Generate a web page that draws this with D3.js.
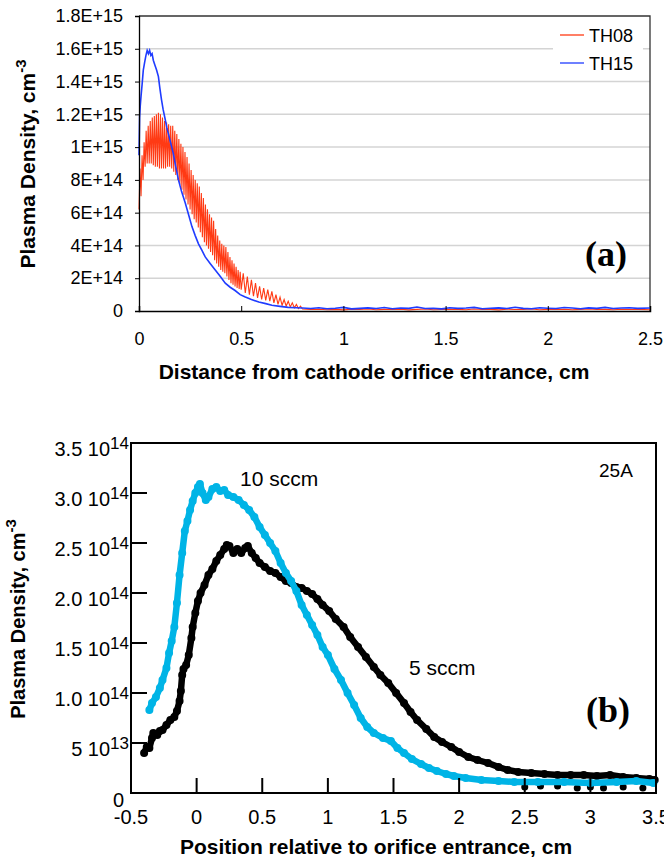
<!DOCTYPE html>
<html>
<head>
<meta charset="utf-8">
<script src="https://cdn.jsdelivr.net/npm/d3@7"></script>
<style>
  body { margin: 0; background: #fff; }
  svg { display: block; }
  text { font-family: "Liberation Sans", Arial, sans-serif; fill: #000; }
</style>
</head>
<body>
<script>
// ---- panel (a) data: distance (cm), density (cm^-3, in units of 1e15) ----
const th15Main = [
  [0.000, 0.95], [0.003, 1.18], [0.006, 1.25], [0.010, 1.31], [0.015, 1.38], [0.021, 1.47],
  [0.028, 1.52], [0.034, 1.56], [0.040, 1.59], [0.046, 1.57], [0.052, 1.59], [0.058, 1.56],
  [0.064, 1.57], [0.070, 1.53], [0.078, 1.50], [0.086, 1.47], [0.095, 1.43], [0.102, 1.36],
  [0.110, 1.29], [0.118, 1.23], [0.128, 1.17], [0.136, 1.12], [0.144, 1.08], [0.156, 1.02],
  [0.168, 0.96], [0.180, 0.88], [0.193, 0.80], [0.208, 0.73], [0.226, 0.66], [0.242, 0.59],
  [0.259, 0.515], [0.275, 0.46], [0.291, 0.41], [0.308, 0.37], [0.324, 0.33], [0.348, 0.29],
  [0.373, 0.25], [0.398, 0.21], [0.422, 0.17], [0.446, 0.145], [0.470, 0.125], [0.495, 0.10],
  [0.520, 0.085], [0.550, 0.07], [0.586, 0.055], [0.620, 0.045], [0.650, 0.035], [0.690, 0.028],
  [0.730, 0.022], [0.770, 0.02]
];
const th08Main = [
  [0.000, 0.62], [0.005, 0.87], [0.010, 0.70], [0.015, 0.95], [0.020, 0.80], [0.025, 1.03],
  [0.030, 0.88], [0.035, 1.10], [0.040, 0.90], [0.045, 1.13], [0.050, 0.90], [0.055, 1.16],
  [0.060, 0.90], [0.065, 1.18], [0.070, 0.89], [0.075, 1.19], [0.080, 0.88], [0.085, 1.20],
  [0.090, 0.88], [0.095, 1.21], [0.100, 0.87], [0.105, 1.20], [0.110, 0.87], [0.115, 1.18],
  [0.120, 0.87], [0.125, 1.16], [0.130, 0.87], [0.135, 1.15], [0.140, 0.88], [0.145, 1.14],
  [0.150, 0.88], [0.155, 1.13], [0.160, 0.87], [0.165, 1.13], [0.170, 0.85], [0.175, 1.10],
  [0.180, 0.83], [0.185, 1.08], [0.190, 0.80], [0.195, 1.05], [0.200, 0.77], [0.205, 1.02],
  [0.210, 0.74], [0.215, 1.00], [0.220, 0.71], [0.225, 0.97], [0.230, 0.68], [0.235, 0.94],
  [0.240, 0.65], [0.245, 0.90], [0.250, 0.62], [0.255, 0.86], [0.260, 0.59], [0.265, 0.83],
  [0.270, 0.56], [0.275, 0.80], [0.280, 0.54], [0.285, 0.78], [0.290, 0.51], [0.295, 0.76],
  [0.300, 0.48], [0.305, 0.72], [0.310, 0.45], [0.315, 0.69], [0.320, 0.42], [0.325, 0.65],
  [0.330, 0.40], [0.335, 0.62], [0.340, 0.38], [0.345, 0.59], [0.350, 0.36], [0.355, 0.57],
  [0.360, 0.34], [0.365, 0.55], [0.370, 0.31], [0.375, 0.50], [0.380, 0.29], [0.385, 0.46],
  [0.390, 0.27], [0.395, 0.43], [0.400, 0.25], [0.405, 0.41], [0.410, 0.24], [0.415, 0.40],
  [0.420, 0.23], [0.425, 0.39], [0.430, 0.21], [0.435, 0.36], [0.440, 0.19], [0.445, 0.33],
  [0.450, 0.17], [0.455, 0.31], [0.460, 0.16], [0.465, 0.29], [0.470, 0.15], [0.475, 0.27],
  [0.480, 0.14], [0.485, 0.25], [0.490, 0.135], [0.495, 0.24], [0.500, 0.13], [0.510, 0.23],
  [0.520, 0.11], [0.530, 0.21], [0.540, 0.10], [0.550, 0.19], [0.560, 0.09], [0.570, 0.17],
  [0.580, 0.08], [0.590, 0.15], [0.600, 0.07], [0.610, 0.14], [0.620, 0.065], [0.630, 0.13],
  [0.640, 0.06], [0.650, 0.12], [0.660, 0.05], [0.670, 0.10], [0.680, 0.04], [0.690, 0.085],
  [0.700, 0.035], [0.710, 0.07], [0.720, 0.03], [0.730, 0.06], [0.740, 0.025], [0.750, 0.05],
  [0.760, 0.02], [0.770, 0.04], [0.780, 0.015], [0.790, 0.03], [0.800, 0.012]
];
const tailX = [0.80, 0.84, 0.88, 0.92, 0.96, 1.00, 1.04, 1.08, 1.12, 1.16, 1.20, 1.24, 1.28,
  1.32, 1.36, 1.40, 1.44, 1.48, 1.52, 1.56, 1.60, 1.64, 1.68, 1.72, 1.76, 1.80, 1.84, 1.88,
  1.92, 1.96, 2.00, 2.04, 2.08, 2.12, 2.16, 2.20, 2.24, 2.28, 2.32, 2.36, 2.40, 2.44, 2.50];
const th15Tail = [0.018, 0.015, 0.020, 0.014, 0.017, 0.022, 0.013, 0.016, 0.019, 0.015, 0.021,
  0.014, 0.018, 0.016, 0.024, 0.015, 0.017, 0.013, 0.020, 0.016, 0.018, 0.022, 0.014, 0.017,
  0.019, 0.015, 0.023, 0.016, 0.014, 0.020, 0.017, 0.015, 0.021, 0.018, 0.014, 0.019, 0.016,
  0.022, 0.015, 0.018, 0.020, 0.016, 0.018];
const th08Tail = [0.012, 0.009, 0.011, 0.008, 0.010, 0.007, 0.011, 0.009, 0.012, 0.008, 0.010,
  0.009, 0.011, 0.007, 0.010, 0.012, 0.008, 0.009, 0.011, 0.010, 0.008, 0.012, 0.009, 0.010,
  0.007, 0.011, 0.009, 0.010, 0.012, 0.008, 0.010, 0.009, 0.011, 0.008, 0.010, 0.012, 0.009,
  0.010, 0.008, 0.011, 0.009, 0.010, 0.008];
const yTicksA = [0, 2e14, 4e14, 6e14, 8e14, 1e15, 1.2e15, 1.4e15, 1.6e15, 1.8e15];
const yLabelsA = ["0", "2E+14", "4E+14", "6E+14", "8E+14", "1E+15", "1.2E+15", "1.4E+15", "1.6E+15", "1.8E+15"];
const xTicksA = [0, 0.5, 1, 1.5, 2, 2.5];
const xLabelsA = ["0", "0.5", "1", "1.5", "2", "2.5"];

// ---- panel (b) data: position (cm), density (units of 1e14 cm^-3) ----
const sccm5 = [
  [-0.40, 0.40], [-0.38, 0.46], [-0.36, 0.45], [-0.34, 0.55], [-0.33, 0.60], [-0.30, 0.58],
  [-0.28, 0.62], [-0.26, 0.63], [-0.23, 0.68], [-0.20, 0.73], [-0.17, 0.76], [-0.15, 0.82],
  [-0.13, 0.92], [-0.12, 1.02], [-0.11, 1.18], [-0.10, 1.24], [-0.08, 1.28], [-0.06, 1.38],
  [-0.04, 1.55], [-0.03, 1.66], [-0.01, 1.80], [0.01, 1.92], [0.03, 2.00], [0.06, 2.08],
  [0.09, 2.18], [0.12, 2.24], [0.15, 2.32], [0.18, 2.38], [0.21, 2.44], [0.23, 2.48],
  [0.25, 2.47], [0.28, 2.40], [0.31, 2.44], [0.34, 2.40], [0.37, 2.45], [0.39, 2.47],
  [0.42, 2.40], [0.45, 2.35], [0.48, 2.30], [0.52, 2.26], [0.56, 2.22], [0.60, 2.20],
  [0.64, 2.16], [0.68, 2.12], [0.72, 2.10], [0.76, 2.06], [0.80, 2.05], [0.84, 2.02],
  [0.88, 1.99], [0.92, 1.94], [0.96, 1.88], [1.01, 1.82], [1.06, 1.74], [1.12, 1.66],
  [1.17, 1.56], [1.23, 1.46], [1.29, 1.36], [1.35, 1.26], [1.40, 1.18], [1.46, 1.10],
  [1.52, 1.00], [1.58, 0.90], [1.63, 0.81], [1.68, 0.73], [1.75, 0.64], [1.81, 0.56],
  [1.87, 0.51], [1.94, 0.46], [2.00, 0.41], [2.07, 0.36], [2.14, 0.33], [2.22, 0.30],
  [2.30, 0.26], [2.37, 0.23], [2.45, 0.21], [2.55, 0.20], [2.65, 0.19], [2.75, 0.18],
  [2.85, 0.18], [2.95, 0.18], [3.05, 0.17], [3.15, 0.18], [3.25, 0.16], [3.35, 0.15],
  [3.45, 0.14], [3.49, 0.13]
];
const sccm5Scatter = [[2.50, 0.06], [2.62, 0.07], [2.75, 0.07], [2.90, 0.05], [3.00, 0.06],
  [3.10, 0.05], [3.25, 0.06], [3.40, 0.05]];
const sccm10 = [
  [-0.36, 0.83], [-0.34, 0.90], [-0.31, 0.96], [-0.28, 1.05], [-0.26, 1.13], [-0.23, 1.25],
  [-0.21, 1.40], [-0.19, 1.52], [-0.17, 1.66], [-0.15, 1.90], [-0.13, 2.18], [-0.11, 2.40],
  [-0.09, 2.62], [-0.07, 2.72], [-0.05, 2.83], [-0.03, 2.92], [-0.01, 3.00], [0.01, 3.06],
  [0.025, 3.09], [0.045, 3.00], [0.07, 2.93], [0.09, 2.96], [0.12, 3.04], [0.15, 3.06],
  [0.18, 3.02], [0.21, 3.03], [0.24, 2.98], [0.28, 2.96], [0.32, 2.93], [0.36, 2.88],
  [0.40, 2.83], [0.44, 2.76], [0.48, 2.66], [0.52, 2.58], [0.56, 2.50], [0.60, 2.42],
  [0.64, 2.30], [0.68, 2.20], [0.72, 2.12], [0.76, 2.02], [0.80, 1.88], [0.84, 1.78],
  [0.88, 1.68], [0.92, 1.58], [0.96, 1.46], [1.00, 1.38], [1.05, 1.24], [1.10, 1.13],
  [1.15, 1.00], [1.20, 0.88], [1.25, 0.75], [1.30, 0.66], [1.35, 0.60], [1.42, 0.55],
  [1.48, 0.52], [1.53, 0.45], [1.58, 0.40], [1.64, 0.34], [1.71, 0.29], [1.77, 0.25],
  [1.83, 0.22], [1.90, 0.19], [1.96, 0.17], [2.05, 0.15], [2.17, 0.13], [2.30, 0.12],
  [2.42, 0.11], [2.60, 0.11], [2.80, 0.11], [3.00, 0.10], [3.20, 0.11], [3.35, 0.12],
  [3.48, 0.10]
];
const yTicksB = [0.5, 1.0, 1.5, 2.0, 2.5, 3.0, 3.5];
const yMantB = ["5", "1.0", "1.5", "2.0", "2.5", "3.0", "3.5"];
const yExpB = ["13", "14", "14", "14", "14", "14", "14"];
const xTicksB = [-0.5, 0, 0.5, 1, 1.5, 2, 2.5, 3, 3.5];
const xLabelsB = ["-0.5", "0", "0.5", "1", "1.5", "2", "2.5", "3", "3.5"];

const svg = d3.select("body").append("svg").attr("width", 664).attr("height", 858);

// ================= panel (a) =================
const xa = d3.scaleLinear().domain([0, 2.5]).range([139, 650]);
const ya = d3.scaleLinear().domain([0, 1.8e15]).range([311, 16]);
const ga = svg.append("g");

ga.selectAll(".grid").data(yTicksA.slice(1, -1)).enter().append("line")
  .attr("x1", xa(0)).attr("x2", xa(2.5))
  .attr("y1", d => ya(d)).attr("y2", d => ya(d))
  .style("stroke", "#d4d4d4").style("stroke-width", 1.5);

// frame: top + right dark
ga.append("path")
  .attr("d", `M${xa(0)},${ya(1.8e15)}H${xa(2.5)}V${ya(0)}`)
  .style("fill", "none").style("stroke", "#333").style("stroke-width", 1.3);

const lineA = d3.line().x(d => xa(d[0])).y(d => ya(d[1] * 1e15));
const th08 = th08Main.concat(tailX.slice(1).map((x, i) => [x, th08Tail[i + 1]]));
const th15 = th15Main.concat(tailX.map((x, i) => [x, th15Tail[i]]));

ga.append("path").datum(th08).attr("d", lineA)
  .style("fill", "none").style("stroke", "#ff3a14").style("stroke-width", 1.1);
ga.append("path").datum(th15).attr("d", lineA)
  .style("fill", "none").style("stroke", "#1f3cff").style("stroke-width", 1.6);

// y axis
const axA = d3.axisLeft(ya).tickValues(yTicksA).tickSize(4).tickPadding(12)
  .tickFormat((d, i) => yLabelsA[i]);
const gya = ga.append("g").attr("transform", `translate(${xa(0)},0)`).call(axA);
gya.select(".domain").style("stroke", "#000").style("stroke-width", 1.3);
gya.selectAll("text").style("font-size", "18px").style("font-family", "Liberation Sans, Arial");

// x axis
const axAx = d3.axisBottom(xa).tickValues(xTicksA).tickSize(-5).tickPadding(21)
  .tickFormat((d, i) => xLabelsA[i]);
const gxa = ga.append("g").attr("transform", `translate(0,${ya(0)})`).call(axAx);
gxa.select(".domain").style("stroke", "#000").style("stroke-width", 1.5);
gxa.selectAll("text").style("font-size", "18px").style("font-family", "Liberation Sans, Arial");

ga.append("text").attr("x", 374).attr("y", 379).attr("text-anchor", "middle")
  .style("font-size", "21px").style("font-weight", "bold")
  .text("Distance from cathode orifice entrance, cm");

ga.append("text").attr("transform", "translate(35,164) rotate(-90)").attr("text-anchor", "middle")
  .style("font-size", "21px").style("font-weight", "bold")
  .call(t => {
    t.append("tspan").text("Plasma Density, cm");
    t.append("tspan").attr("dy", -9).style("font-size", "15px").text("-3");
  });

// legend
const legA = ga.append("g");
legA.append("rect").attr("x", 553).attr("y", 20).attr("width", 90).attr("height", 56).style("fill", "#fff");
[["TH08", "#ff3a14"], ["TH15", "#1f3cff"]].forEach((s, i) => {
  legA.append("line").attr("x1", 560).attr("x2", 584).attr("y1", 35 + i * 28).attr("y2", 35 + i * 28)
    .style("stroke", s[1]).style("stroke-width", 1.3);
  legA.append("text").attr("x", 589).attr("y", 42 + i * 28).style("font-size", "18px").text(s[0]);
});

ga.append("text").attr("x", 606).attr("y", 266).attr("text-anchor", "middle")
  .style("font-family", "Liberation Serif, Times New Roman, serif")
  .style("font-size", "36px").style("font-weight", "bold").text("(a)");

// ================= panel (b) =================
const xb = d3.scaleLinear().domain([-0.5, 3.5]).range([131, 656]);
const yb = d3.scaleLinear().domain([0, 3.5]).range([793, 443]);
const gb = svg.append("g");

const lineB = d3.line().x(d => xb(d[0])).y(d => yb(d[1]));

function drawDots(data, color) {
  gb.append("path").datum(data).attr("d", lineB)
    .style("fill", "none").style("stroke", color).style("stroke-width", 6.5)
    .style("stroke-linejoin", "round").style("stroke-linecap", "round");
  gb.selectAll(null).data(data).enter().append("circle")
    .attr("cx", d => xb(d[0])).attr("cy", d => yb(d[1])).attr("r", 4)
    .style("fill", color);
}
drawDots(sccm5, "#000");
gb.selectAll(null).data(sccm5Scatter).enter().append("circle")
  .attr("cx", d => xb(d[0])).attr("cy", d => yb(d[1])).attr("r", 3.5).style("fill", "#000");
drawDots(sccm10, "#00b4e6");

// frame
gb.append("rect").attr("x", xb(-0.5)).attr("y", yb(3.5))
  .attr("width", xb(3.5) - xb(-0.5)).attr("height", yb(0) - yb(3.5))
  .style("fill", "none").style("stroke", "#000").style("stroke-width", 2);

// inward ticks
gb.selectAll(".ytk").data(yTicksB.slice(0, -1)).enter().append("line")
  .attr("x1", xb(-0.5)).attr("x2", xb(-0.5) + 16)
  .attr("y1", d => yb(d)).attr("y2", d => yb(d))
  .style("stroke", "#000").style("stroke-width", 2);
gb.selectAll(".xtk").data(xTicksB.slice(1, -1)).enter().append("line")
  .attr("x1", d => xb(d)).attr("x2", d => xb(d))
  .attr("y1", yb(0)).attr("y2", yb(0) - 15)
  .style("stroke", "#000").style("stroke-width", 2);

// y labels
gb.selectAll(".ylab").data(yTicksB).enter().append("text")
  .attr("x", xb(-0.5) - 2).attr("y", d => yb(d) + 13)
  .attr("text-anchor", "end").style("font-size", "20px")
  .each(function (d, i) {
    const t = d3.select(this);
    t.append("tspan").text(yMantB[i] + " 10");
    t.append("tspan").attr("dy", -7).style("font-size", "17px").text(yExpB[i]);
  });
gb.append("text").attr("x", xb(-0.5) - 7).attr("y", yb(0) + 14)
  .attr("text-anchor", "end").style("font-size", "20px").text("0");

// x labels
gb.selectAll(".xlab").data(xTicksB).enter().append("text")
  .attr("x", d => xb(d)).attr("y", 824)
  .attr("text-anchor", "middle").style("font-size", "20px")
  .text((d, i) => xLabelsB[i]);

gb.append("text").attr("x", 376).attr("y", 854).attr("text-anchor", "middle")
  .style("font-size", "21px").style("font-weight", "bold")
  .text("Position relative to orifice entrance, cm");

gb.append("text").attr("transform", "translate(25,619) rotate(-90)").attr("text-anchor", "middle")
  .style("font-size", "20px").style("font-weight", "bold")
  .call(t => {
    t.append("tspan").text("Plasma Density, cm");
    t.append("tspan").attr("dy", -9).style("font-size", "15px").text("-3");
  });

gb.append("text").attr("x", 240).attr("y", 486).style("font-size", "21px").text("10 sccm");
gb.append("text").attr("x", 409).attr("y", 675).style("font-size", "21px").text("5 sccm");
gb.append("text").attr("x", 599).attr("y", 477).style("font-size", "19px").text("25A");
gb.append("text").attr("x", 608).attr("y", 722).attr("text-anchor", "middle")
  .style("font-family", "Liberation Serif, Times New Roman, serif")
  .style("font-size", "36px").style("font-weight", "bold").text("(b)");
</script>
</body>
</html>
